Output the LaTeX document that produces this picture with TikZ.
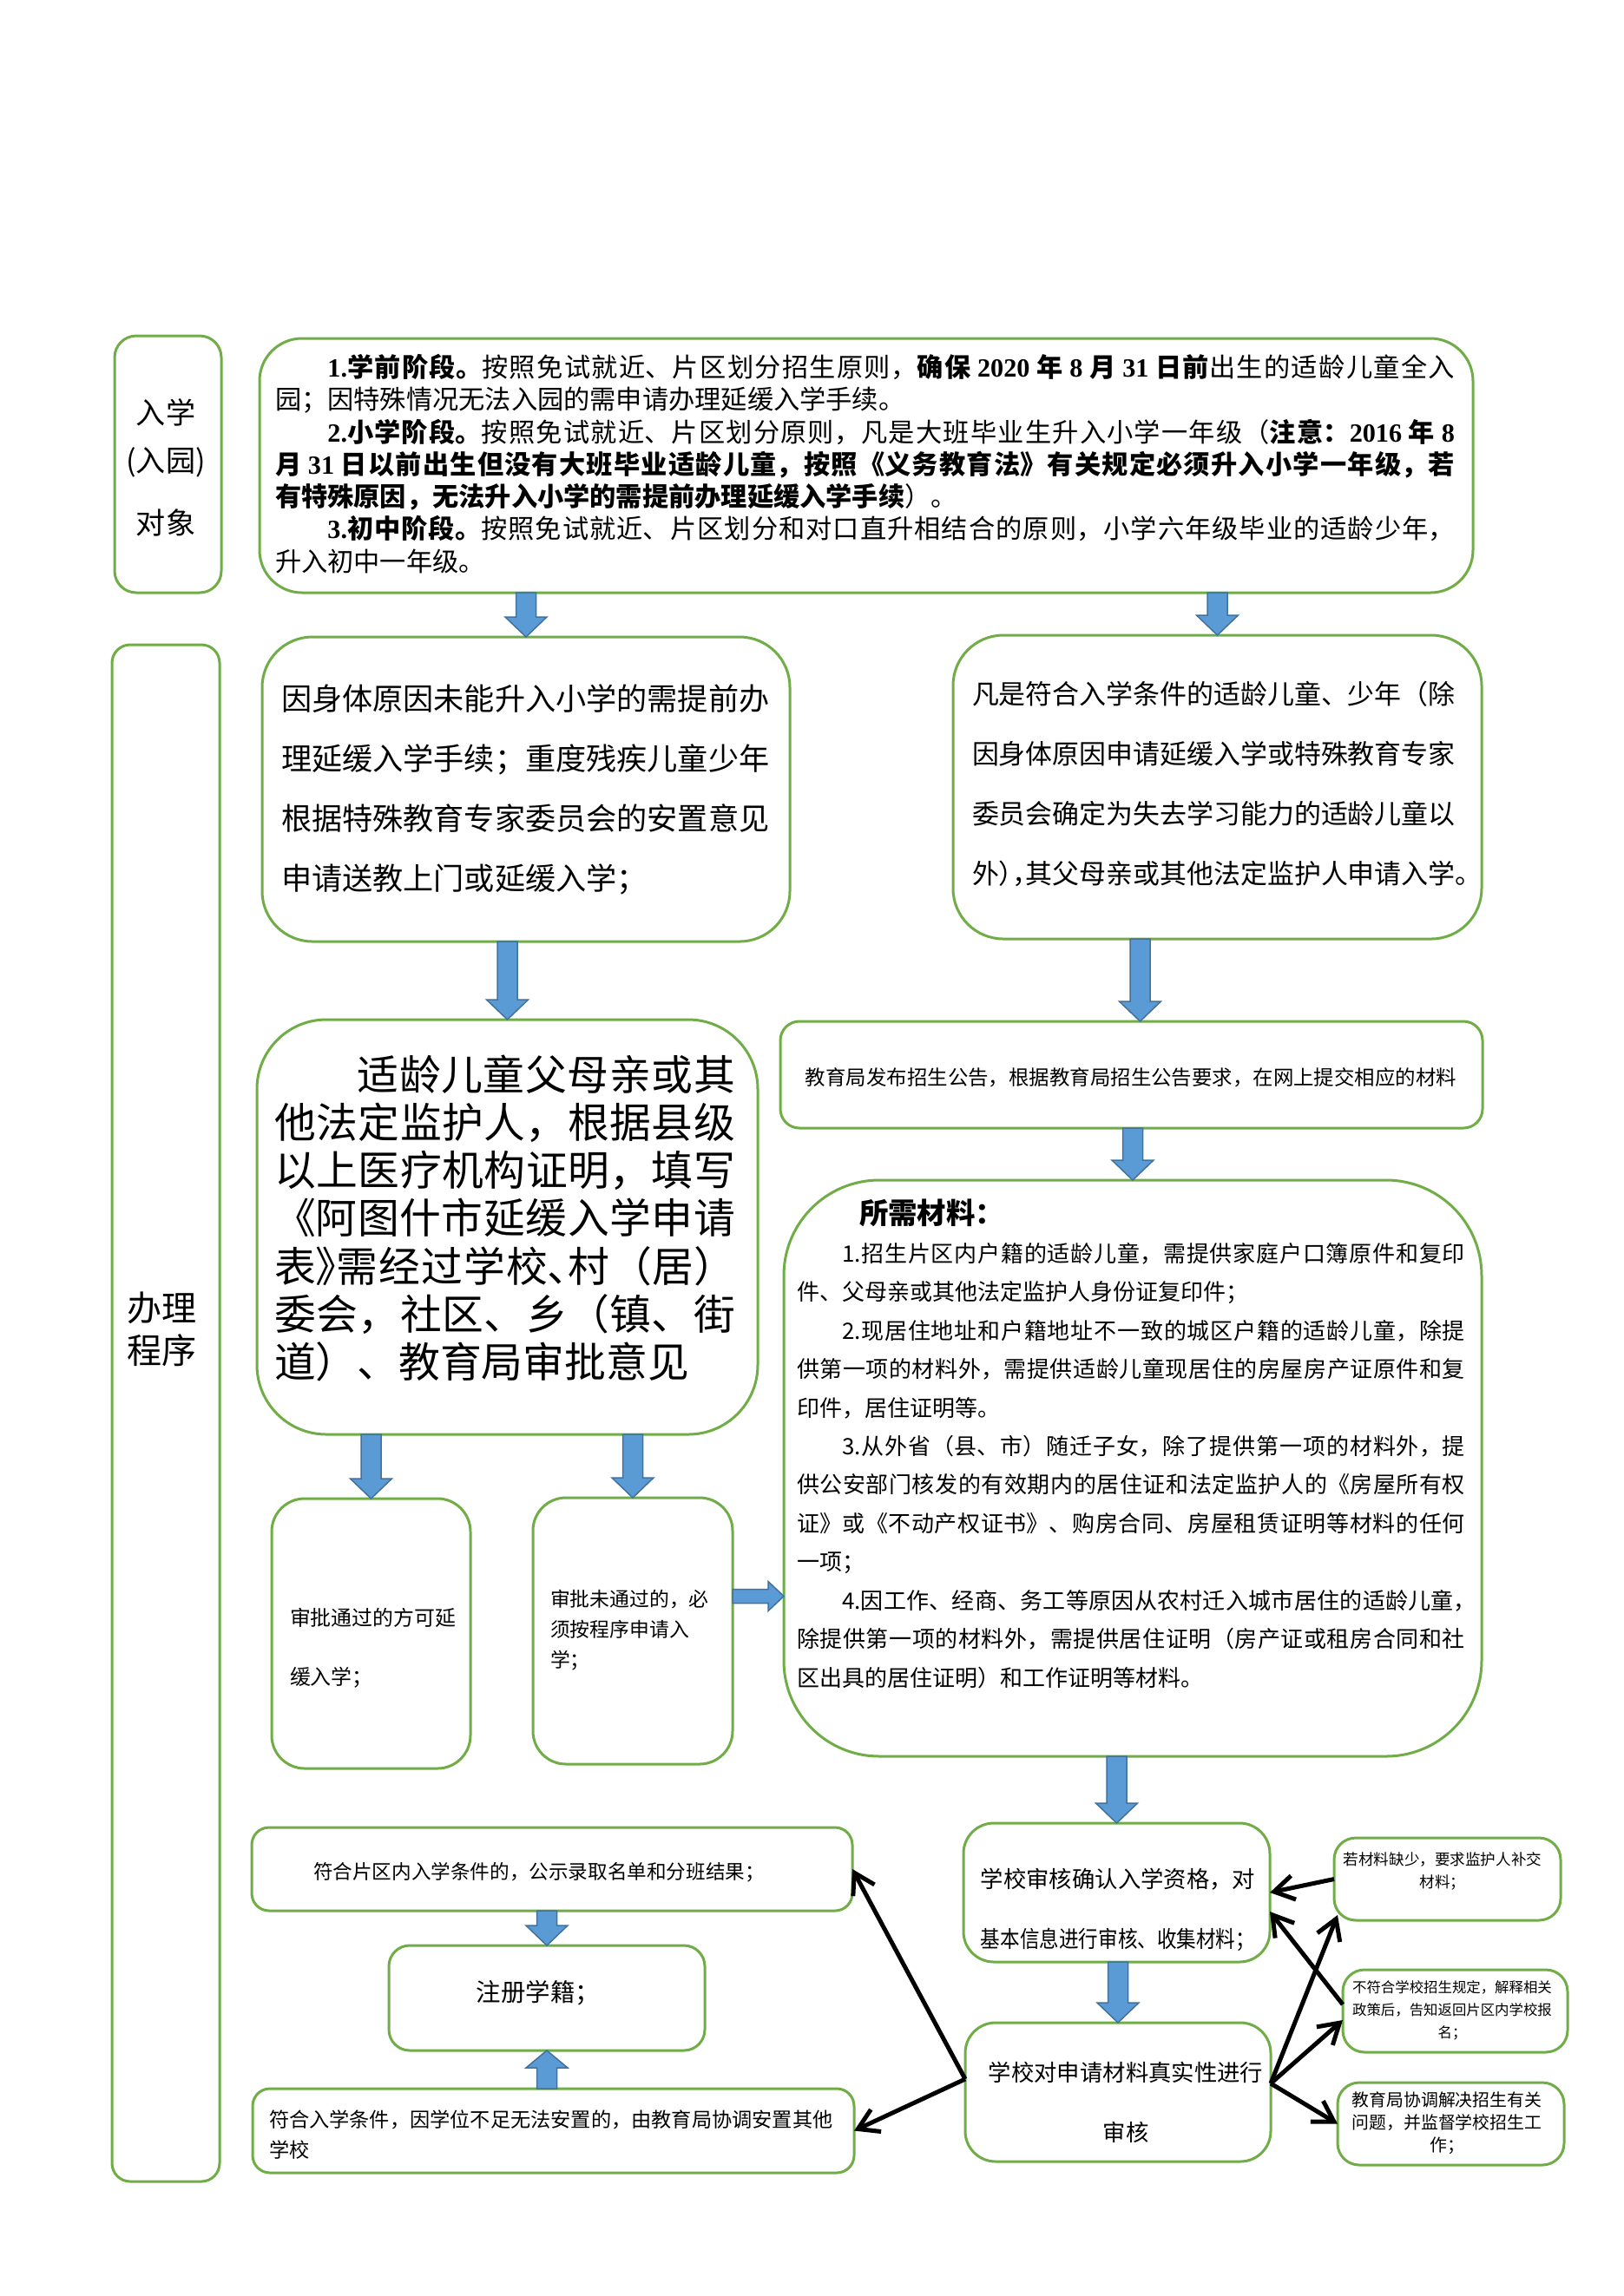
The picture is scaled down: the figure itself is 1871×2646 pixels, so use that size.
\documentclass[tikz,border=0pt]{standalone}
\usepackage{fontspec}
\usepackage{graphicx}
\setmainfont{Noto Sans CJK SC}
\newfontfamily\tnr{Liberation Serif}
\usetikzlibrary{arrows.meta,calc}
\XeTeXlinebreaklocale "zh"
\XeTeXlinebreakskip=0pt plus 1.5pt
\definecolor{bgreen}{HTML}{70AD47}
\definecolor{bfill}{HTML}{5B9BD5}
\definecolor{bdraw}{HTML}{41719C}
\newcommand\fsz[2]{\fontsize{#1}{#2}\selectfont}
\newcommand\hw[1]{{\addfontfeature{RawFeature=+halt}#1}}
\newcommand\tn[1]{{\tnr\bfseries #1}}
\newcommand\gbx[6]{\node[gbox, rounded corners=#6, minimum width={(#4-#2)*0.1mm}, minimum height={(#5-#3)*0.1mm}] (#1) at ({(#2+#4)/2},{(#3+#5)/2}) {};}
\newcommand\blkdown[2]{\path[barrow] let \p1=(#1), \p2=(#2) in
  (\x1-1.15mm,\y1) -- (\x1+1.15mm,\y1) -- (\x1+1.15mm,\y2+2.3mm) -- (\x1+2.4mm,\y2+2.3mm)
  -- (\x1,\y2) -- (\x1-2.4mm,\y2+2.3mm) -- (\x1-1.15mm,\y2+2.3mm) -- cycle;}
\newcommand\blkup[2]{\path[barrow] let \p1=(#1), \p2=(#2) in
  (\x1-1.15mm,\y1) -- (\x1+1.15mm,\y1) -- (\x1+1.15mm,\y2-2.0mm) -- (\x1+2.4mm,\y2-2.0mm)
  -- (\x1,\y2) -- (\x1-2.4mm,\y2-2.0mm) -- (\x1-1.15mm,\y2-2.0mm) -- cycle;}
\newcommand\blkright[2]{\path[barrow] let \p1=(#1), \p2=(#2) in
  (\x1,\y1-0.8mm) -- (\x2-1.8mm,\y1-0.8mm) -- (\x2-1.8mm,\y1-1.7mm) -- (\x2,\y1)
  -- (\x2-1.8mm,\y1+1.7mm) -- (\x2-1.8mm,\y1+0.8mm) -- (\x1,\y1+0.8mm) -- cycle;}
\begin{document}
\begin{tikzpicture}[x=0.1mm,y=-0.1mm,
  gbox/.style={draw=bgreen, line width=0.3mm, inner sep=0pt, outer sep=0pt, fill=white},
  txt/.style={inner sep=0pt, outer sep=0pt, text=black},
  nj/.style={execute at begin node={\XeTeXlinebreakskip=0pt\relax}},
  blk/.style={draw=black, line width=0.5mm, -{Straight Barb[length=2.3mm,width=2.8mm]}},
  barrow/.style={fill=bfill, draw=bdraw, line width=0.15mm, line join=miter}]
\fill[white] (0,0) rectangle (1871,2646);
\useasboundingbox (0,0) rectangle (1871,2646);

% boxes
\gbx{L1}{132}{387}{255}{683}{2.5mm}
\gbx{T}{299}{390}{1697}{683}{4.9mm}
\gbx{L2}{129}{743}{253}{2514}{2.1mm}
\gbx{A}{302}{734}{910}{1085}{5.8mm}
\gbx{B}{1098}{732}{1707}{1082}{5.8mm}
\gbx{C}{296}{1175}{873}{1653}{8mm}
\gbx{D}{899}{1177}{1708}{1300}{2.2mm}
\gbx{E}{903}{1360}{1707}{2024}{11mm}
\gbx{F}{313}{1727}{542}{2038}{3.8mm}
\gbx{G}{614}{1726}{844}{2033}{3.8mm}
\gbx{H}{1110}{2101}{1463}{2261}{3.5mm}
\gbx{I}{1112}{2331}{1464}{2491}{3.5mm}
\gbx{J}{1537}{2118}{1798}{2213}{2.5mm}
\gbx{K}{1547}{2270}{1806}{2365}{2.5mm}
\gbx{L}{1541}{2400}{1802}{2495}{2.5mm}
\gbx{M}{290}{2106}{982}{2202}{2mm}
\gbx{N}{448}{2242}{812}{2363}{2.4mm}
\gbx{O}{291}{2407}{984}{2504}{2mm}

% left labels
\node[txt, font=\fsz{9.7}{12}] (l1a) at (191,475) {入学};
\node[txt, font=\fsz{9.7}{12}] (l1b) at (191,533) {(入园)};
\node[txt, font=\fsz{9.7}{12}] (l1c) at (191,602) {对象};
\node[txt, nj, anchor=base, text width=15mm, align=center, font=\fsz{11.4}{14.2}] (l2) at (187,1522) {办理\\程序};

% top box text
\node[txt, anchor=base west, text width=135.9mm, align=justify, font=\fsz{8.6}{10.61}] (tT) at (317,434.5)
{\hspace*{2em}{\bfseries \tn{1.}学前阶段。}按照免试就近、片区划分招生原则，{\bfseries 确保 \tn{2020} 年 \tn{8} 月 \tn{31} 日前}出生的适龄儿童全入\linebreak
园；因特殊情况无法入园的需申请办理延缓入学手续。\\
\hspace*{2em}{\bfseries \tn{2.}小学阶段。}按照免试就近、片区划分原则，凡是大班毕业生升入小学一年级（{\bfseries 注意：\tn{2016} 年 \tn{8}}\linebreak
{\bfseries 月 \tn{31} 日以前出生但没有大班毕业适龄儿童，按照《义务教育法》有关规定必须升入小学一年级，若}\linebreak
{\bfseries 有特殊原因，无法升入小学的需提前办理延缓入学手续}）。\\
\hspace*{2em}{\bfseries \tn{3.}初中阶段。}按照免试就近、片区划分和对口直升相结合的原则，小学六年级毕业的适龄少年，\linebreak
升入初中一年级。};

% A
\node[txt, nj, anchor=base west, text width=57mm, align=left, font=\fsz{10}{19.63}] (tA) at (324,818.4)
{因身体原因未能升入小学的需提前办\\理延缓入学手续；重度残疾儿童少年\\根据特殊教育专家委员会的安置意见\\申请送教上门或延缓入学；};
% B
\node[txt, nj, anchor=base west, text width=58mm, align=left, font=\fsz{8.8}{19.63}] (tB) at (1120,811.8)
{凡是符合入学条件的适龄儿童、少年（除\\因身体原因申请延缓入学或特殊教育专家\\委员会确定为失去学习能力的适龄儿童以\\外\hw{），}其父母亲或其他法定监护人申请入学\hw{。}};
% C
\node[txt, anchor=base west, text width=53.1mm, align=justify, font=\fsz{13.6}{15.73}] (tC) at (316,1256)
{\hspace*{2em}适龄儿童父母亲或其\linebreak 他法定监护人，根据县级\linebreak 以上医疗机构证明，填写\linebreak 《阿图什市延缓入学申请\linebreak 表\hw{》}需经过学校\hw{、}村（居）\linebreak 委会，社区、乡（镇、街\linebreak 道）、教育局审批意见};
% D
\node[txt, font=\fsz{6.67}{8}] (tD) at (1303,1242) {教育局发布招生公告，根据教育局招生公告要求，在网上提交相应的材料};
% E
\node[txt, anchor=base west, font=\fsz{9.5}{11}\bfseries] (tE0) at (990,1410) {所需材料：};
\node[txt, anchor=base west, text width=77mm, align=justify, font=\fsz{7.4}{12.66}] (tE) at (918,1454)
{\hspace*{2em}1.招生片区内户籍的适龄儿童，需提供家庭户口簿原件和复印\linebreak
件、父母亲或其他法定监护人身份证复印件；\\
\hspace*{2em}2.现居住地址和户籍地址不一致的城区户籍的适龄儿童，除提\linebreak
供第一项的材料外，需提供适龄儿童现居住的房屋房产证原件和复\linebreak
印件，居住证明等。\\
\hspace*{2em}3.从外省（县、市）随迁子女，除了提供第一项的材料外，提\linebreak
供公安部门核发的有效期内的居住证和法定监护人的《房屋所有权\linebreak
证》或《不动产权证书》、购房合同、房屋租赁证明等材料的任何\linebreak
一项；\\
\hspace*{2em}4.因工作、经商、务工等原因从农村迁入城市居住的适龄儿童\hw{，}\linebreak
除提供第一项的材料外，需提供居住证明（房产证或租房合同和社\linebreak
区出具的居住证明）和工作证明等材料。};
% F, G
\node[txt, nj, anchor=base west, text width=20mm, align=left, font=\fsz{6.8}{19.35}] (tF) at (334,1873) {审批通过的方可延\\缓入学；};
\node[txt, nj, anchor=base west, text width=20mm, align=left, font=\fsz{6.5}{9.96}] (tG) at (634,1851.7) {审批未通过的，必\\须按程序申请入\\学；};
% H, I
\node[txt, nj, anchor=base, text width=40mm, align=center, font=\fsz{7.5}{19.9}] (tH) at (1288,2175)
{学校审核确认入学资格，对\\\scalebox{0.857}[1]{基本信息进行审核、收集材料；}};
\node[txt, nj, anchor=base, text width=40mm, align=center, font=\fsz{7.5}{19.9}] (tI) at (1297,2398)
{学校对申请材料真实性进行\\审核};
% J, K, L
\node[txt, nj, anchor=base, text width=25mm, align=center, font=\fsz{5.0}{7.4}] (tJ) at (1662,2149)
{若材料缺少，要求监护人补交\\材料；};
\node[txt, nj, anchor=base, text width=25mm, align=center, font=\fsz{4.67}{7.4}] (tK) at (1673,2296)
{不符合学校招生规定，解释相关\\政策后，告知返回片区内学校报\\名；};
\node[txt, nj, anchor=base, text width=25mm, align=center, font=\fsz{5.66}{7.4}] (tL) at (1667,2427.6)
{教育局协调解决招生有关\\问题，并监督学校招生工\\作；};
% M, N, O
\node[txt, font=\fsz{6.43}{8}] (tM) at (621,2158) {符合片区内入学条件的，公示录取名单和分班结果；};
\node[txt, font=\fsz{8.1}{10}] (tN) at (620,2297) {注册学籍；};
\node[txt, nj, anchor=base west, text width=66mm, align=left, font=\fsz{6.6}{9.96}] (tO) at (310,2451)
{符合入学条件，因学位不足无法安置的，由教育局协调安置其他\\学校};

% blue block arrows
\coordinate (bd) at ([xshift=1mm]D.north);
\coordinate (gE) at ([yshift=4mm]G.east);
\blkdown{T.south -| A.north}{A.north}
\blkdown{T.south -| B.north}{B.north}
\blkdown{A.south -| C.north}{C.north}
\blkdown{B.south -| bd}{bd}
\blkdown{D.south -| E.north}{E.north}
\blkdown{C.south -| F.north}{F.north}
\blkdown{C.south -| G.north}{G.north}
\blkright{gE}{E.west}
\blkdown{E.south -| H.north}{H.north}
\blkdown{H.south -| I.north}{I.north}
\blkdown{M.south -| N.north}{N.north}
\blkup{O.north -| N.south}{N.south}

% black arrows
\draw[blk] ([yshift=1.5mm]I.west) -- (M.east);
\draw[blk] ([yshift=1.5mm]I.west) -- (O.east);
\draw[blk] ([yshift=1mm]I.east) -- ([xshift=0.4mm,yshift=0.6mm]J.south west);
\draw[blk] ([yshift=1mm]I.east) -- ([yshift=-1.05mm]K.west);
\draw[blk] ([yshift=1mm]I.east) -- (L.west);
\draw[blk] ([yshift=0.75mm]K.west) -- ([yshift=-2.2mm]H.east);
\draw[blk] (J.west) -- (H.east);
\end{tikzpicture}
\end{document}
